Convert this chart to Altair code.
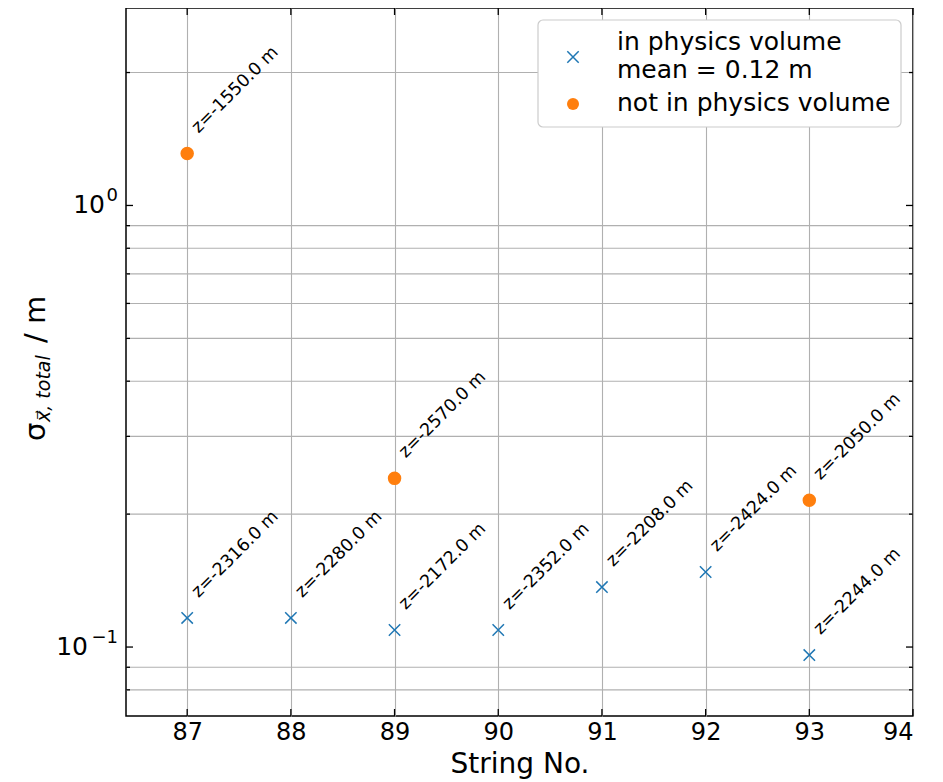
import altair as alt
import numpy as np
import pandas as pd

# ---- data ----
strings_in = [87, 88, 89, 90, 91, 92, 93]
sigma_in = [0.1164, 0.1164, 0.1093, 0.1093, 0.1367, 0.1479, 0.0959]
z_in = [-2316.0, -2280.0, -2172.0, -2352.0, -2208.0, -2424.0, -2244.0]

strings_out = [87, 89, 93]
sigma_out = [1.311, 0.241, 0.215]
z_out = [-1550.0, -2570.0, -2050.0]

x_ticks = [87, 88, 89, 90, 91, 92, 93, 94]
y_major = [0.1, 1.0]
y_minor = [0.08, 0.09, 0.2, 0.3, 0.4, 0.5, 0.6, 0.7, 0.8, 0.9, 2.0]

mean_in = float(np.mean(sigma_in))
legend_lines = ["in physics volume", f"mean = {mean_in:.2f} m", "not in physics volume"]
grp_in = "in"
grp_out = "out"
groups = [grp_in, grp_out]
colors = ["#1f77b4", "#ff7f0e"]
cross_path = "M-0.95,-0.95L0.95,0.95M-0.95,0.95L0.95,-0.95"
shapes = [cross_path, "circle"]

W, H = 787, 708
FONT = "DejaVu Sans"

df = pd.DataFrame({
    "string": strings_in + strings_out,
    "sigma": sigma_in + sigma_out,
    "group": [grp_in] * len(strings_in) + [grp_out] * len(strings_out),
    "label": [f"z={z:.1f} m" for z in z_in + z_out],
})

xscale = alt.Scale(domain=[86.41, 94.0], nice=False, zero=False)
yscale = alt.Scale(type="log", domain=[0.0698, 2.80], nice=False)

xaxis = alt.Axis(values=x_ticks, format="d", grid=True, gridColor="#b0b0b0",
                 gridWidth=1.1, ticks=False, domain=False, labelFontSize=24,
                 labelFont=FONT, labelColor="black", labelPadding=4,
                 title="String No.", titleFont=FONT, titleFontSize=28,
                 titleFontWeight="normal", titleColor="black", titlePadding=6)

grid_y = alt.Chart(pd.DataFrame({"v": y_minor})).mark_rule(
    color="#b0b0b0", strokeWidth=1.1
).encode(y=alt.Y("v:Q", scale=yscale, axis=None))

points = alt.Chart(df).mark_point(filled=True, size=144, strokeWidth=1.5, opacity=1).encode(
    x=alt.X("string:Q", scale=xscale, axis=xaxis),
    y=alt.Y("sigma:Q", scale=yscale, axis=None),
    fill=alt.Fill("group:N", scale=alt.Scale(domain=groups, range=colors), legend=None),
    stroke=alt.Stroke("group:N", scale=alt.Scale(domain=groups, range=colors), legend=None),
    shape=alt.Shape("group:N", scale=alt.Scale(domain=groups, range=shapes), legend=None),
)

labels = alt.Chart(df).mark_text(
    angle=315, align="left", baseline="alphabetic", dx=22, dy=-6,
    fontSize=17.5, font=FONT, color="black"
).encode(
    x=alt.X("string:Q", scale=xscale, axis=xaxis),
    y=alt.Y("sigma:Q", scale=yscale, axis=None),
    text="label:N",
)

tick_color = "black"
tw = 1.3
ymaj = pd.DataFrame({"v": y_major})
ymin = pd.DataFrame({"v": y_minor})
xt = pd.DataFrame({"v": x_ticks})

ticks = [
    alt.Chart(ymaj).mark_rule(color=tick_color, strokeWidth=tw).encode(
        y=alt.Y("v:Q", scale=yscale, axis=None), x=alt.value(0), x2=alt.value(7)),
    alt.Chart(ymaj).mark_rule(color=tick_color, strokeWidth=tw).encode(
        y=alt.Y("v:Q", scale=yscale, axis=None), x=alt.value(W - 7), x2=alt.value(W)),
    alt.Chart(ymin).mark_rule(color=tick_color, strokeWidth=tw).encode(
        y=alt.Y("v:Q", scale=yscale, axis=None), x=alt.value(0), x2=alt.value(4)),
    alt.Chart(ymin).mark_rule(color=tick_color, strokeWidth=tw).encode(
        y=alt.Y("v:Q", scale=yscale, axis=None), x=alt.value(W - 4), x2=alt.value(W)),
    alt.Chart(xt).mark_rule(color=tick_color, strokeWidth=tw).encode(
        x=alt.X("v:Q", scale=xscale, axis=xaxis), y=alt.value(H - 7), y2=alt.value(H)),
    alt.Chart(xt).mark_rule(color=tick_color, strokeWidth=tw).encode(
        x=alt.X("v:Q", scale=xscale, axis=xaxis), y=alt.value(0), y2=alt.value(7)),
]

# y tick labels 10^0 and 10^-1 (base + superscript)
ylabels = []
for val, sup, base_x in [(1.0, "0", -21), (0.1, "−1", -38)]:
    d = pd.DataFrame({"v": [val], "base": ["10"], "sup": [sup]})
    ylabels.append(alt.Chart(d).mark_text(
        align="right", baseline="middle", fontSize=25, font=FONT, color="black"
    ).encode(y=alt.Y("v:Q", scale=yscale, axis=None), x=alt.value(base_x), text="base:N"))
    ylabels.append(alt.Chart(d).mark_text(
        align="right", baseline="middle", fontSize=18, font=FONT, color="black", dy=-9
    ).encode(y=alt.Y("v:Q", scale=yscale, axis=None), x=alt.value(-8), text="sup:N"))

# y-axis title built from pieces (sigma with subscript)
ytitle = [
    alt.Chart(pd.DataFrame({"t": ["σ"]})).mark_text(
        angle=270, align="left", baseline="alphabetic", fontSize=29, font=FONT, color="black"
    ).encode(x=alt.value(-81), y=alt.value(433), text="t:N"),
    alt.Chart(pd.DataFrame({"t": ["x⃗, total"]})).mark_text(
        angle=270, align="left", baseline="alphabetic", fontSize=19, font=FONT,
        fontStyle="italic", color="black"
    ).encode(x=alt.value(-76), y=alt.value(414), text="t:N"),
    alt.Chart(pd.DataFrame({"t": ["/ m"]})).mark_text(
        angle=270, align="left", baseline="alphabetic", fontSize=29, font=FONT, color="black"
    ).encode(x=alt.value(-81), y=alt.value(335), text="t:N"),
]

# legend box drawn by hand
leg_box = alt.Chart(pd.DataFrame({"a": [0]})).mark_rect(
    fill="white", stroke="#cccccc", strokeWidth=1.2, cornerRadius=5
).encode(x=alt.value(412), x2=alt.value(775), y=alt.value(12), y2=alt.value(119))
leg_cross = alt.Chart(pd.DataFrame({"a": [0]})).mark_point(
    shape=cross_path, size=144, strokeWidth=1.5, color=colors[0], filled=False, opacity=1
).encode(x=alt.value(447), y=alt.value(49))
leg_circle = alt.Chart(pd.DataFrame({"a": [0]})).mark_point(
    shape="circle", size=144, strokeWidth=1.5, color=colors[1], filled=True, opacity=1
).encode(x=alt.value(447), y=alt.value(96))
leg_text = [
    alt.Chart(pd.DataFrame({"t": [txt]})).mark_text(
        align="left", baseline="middle", fontSize=25, font=FONT, color="black"
    ).encode(x=alt.value(491), y=alt.value(yy), text="t:N")
    for txt, yy in zip(legend_lines, [34, 62, 95])
]

chart = alt.layer(
    grid_y, points, labels, *ticks, *ylabels, *ytitle, leg_box, leg_cross, leg_circle, *leg_text
).properties(
    width=W, height=H,
    autosize=alt.AutoSizeParams(type="none"),
    padding={"left": 118, "top": 0, "right": 22, "bottom": 66},
).configure_view(
    stroke="black", strokeWidth=1.5
)

chart.save("out.html", embed_options={"renderer": "svg", "actions": False})
